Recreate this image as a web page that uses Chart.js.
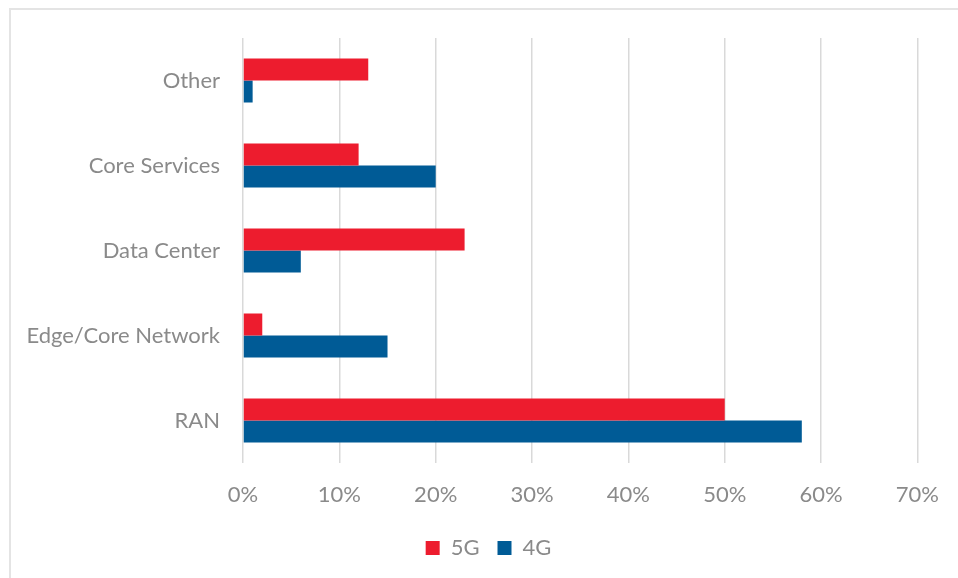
<!DOCTYPE html>
<html><head><meta charset="utf-8">
<script src="https://cdn.jsdelivr.net/npm/chart.js@4"></script>
<style>
html,body{margin:0;padding:0;background:#fff;overflow:hidden}
#frame{position:absolute;left:9px;top:8px;width:990px;height:600px;border:2px solid #e4e4e4;box-sizing:border-box}
#wrap{position:absolute;left:0;top:0;width:958px;height:578px}
</style></head><body>
<div id="frame"></div>
<div id="wrap"><canvas id="c" width="958" height="578"></canvas></div>
<script>
// Spending share by network domain, 5G vs 4G
const categories = ['Other', 'Core Services', 'Data Center', 'Edge/Core Network', 'RAN'];
const share5G = [13, 12, 23, 2, 50];
const share4G = [1, 20, 6, 15, 58];
const xTickValues = [0, 10, 20, 30, 40, 50, 60, 70];

const RED = '#ED1C2E';
const BLUE = '#005B96';
const TEXT = '#8a8a8a';
const FONT = 'Lato, "Open Sans", sans-serif';

// Center the legend under the whole framed panel rather than the plot area
const legendShift = {
  id: 'legendShift',
  afterLayout(chart) {
    const lg = chart.legend;
    if (lg) { lg.left += 29; lg.right += 29; }
  }
};

new Chart(document.getElementById('c'), {
  type: 'bar',
  data: {
    labels: categories,
    datasets: [
      { label: '5G', data: share5G, backgroundColor: RED, borderWidth: 0,
        categoryPercentage: 0.52, barPercentage: 1.0 },
      { label: '4G', data: share4G, backgroundColor: BLUE, borderWidth: 0,
        categoryPercentage: 0.52, barPercentage: 1.0 }
    ]
  },
  options: {
    indexAxis: 'y',
    responsive: false,
    animation: false,
    devicePixelRatio: 1,
    layout: { padding: { left: 0, top: 38, right: 39, bottom: 9 } },
    scales: {
      x: {
        min: xTickValues[0],
        max: xTickValues[xTickValues.length - 1],
        afterBuildTicks: (scale) => { scale.ticks = xTickValues.map(v => ({ value: v })); },
        afterFit: (scale) => { scale.height = 56; },
        ticks: {
          callback: (v) => v + '%',
          color: TEXT,
          font: { family: FONT, size: 22 },
          padding: 19
        },
        grid: { color: '#d9d9d9', lineWidth: 1.5, drawTicks: false },
        border: { display: false }
      },
      y: {
        afterFit: (scale) => { scale.width = 243; },
        ticks: {
          color: TEXT,
          font: { family: FONT, size: 22 },
          padding: 15
        },
        grid: { display: false },
        border: { display: false }
      }
    },
    plugins: {
      legend: {
        position: 'bottom',
        labels: {
          color: TEXT,
          font: { family: FONT, size: 22 },
          boxWidth: 14,
          boxHeight: 14,
          padding: 18
        }
      },
      tooltip: { enabled: false }
    }
  },
  plugins: [legendShift]
});
</script>
</body></html>
